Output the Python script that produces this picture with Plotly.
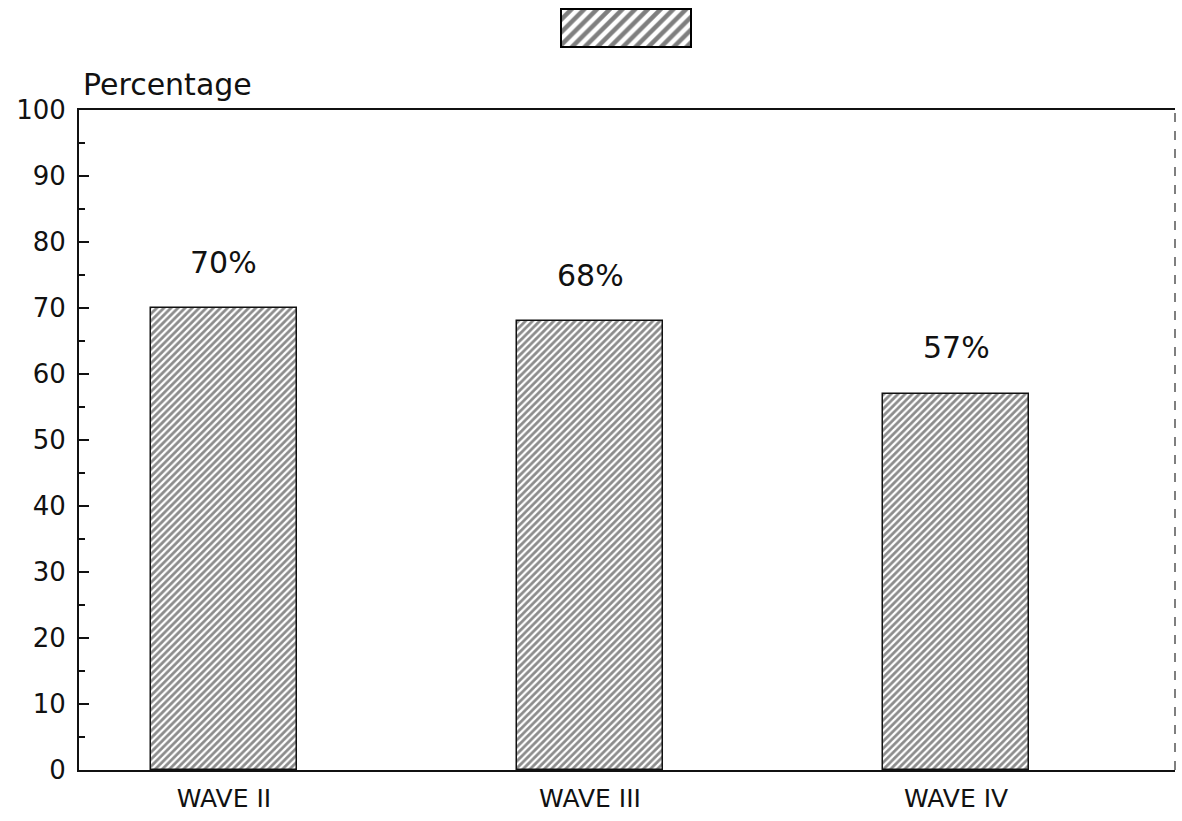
import plotly.graph_objects as go

categories = ["WAVE II", "WAVE III", "WAVE IV"]
values = [70, 68, 57]
value_labels = ["70%", "68%", "57%"]
y_ticks = [0, 10, 20, 30, 40, 50, 60, 70, 80, 90, 100]
legend_key = [1]

FONT = "DejaVu Sans"
W, H = 1182, 821
ml, mr, mt, mb = 79, 7, 5, 51
plot_h = H - mt - mb
plot_w = W - ml - mr
main_top = (H - mb - 110) / plot_h

fig = go.Figure()
fig.add_trace(go.Bar(
    x=[0, 1, 2], y=values, width=0.40,
    marker=dict(color="white", line=dict(color="#111", width=1.5),
                pattern=dict(shape="/", fgcolor="#1a1a1a", bgcolor="white", size=5, solidity=0.55)),
    showlegend=False, hoverinfo="skip"))

# legend key swatch
fig.add_trace(go.Bar(
    x=[0], y=legend_key, width=1.0, xaxis="x2", yaxis="y2",
    marker=dict(color="white", line=dict(color="#000", width=4),
                pattern=dict(shape="/", fgcolor="#000", bgcolor="white", size=9, solidity=0.5)),
    showlegend=False, hoverinfo="skip"))

for i, (v, lab) in enumerate(zip(values, value_labels)):
    fig.add_annotation(x=i, y=v, text=lab, showarrow=False, yshift=46,
                       font=dict(family=FONT, size=30, color="#111"), xref="x", yref="y")

fig.add_annotation(x=0, y=1.0, xref="paper", yref="y domain", xanchor="left", yanchor="bottom",
                   yshift=6, xshift=2, text="Percentage", showarrow=False,
                   font=dict(family=FONT, size=30, color="#111"))

# right frame edge (faint dashed in the original)
fig.add_shape(type="line", xref="x domain", yref="y domain", x0=1, x1=1, y0=0, y1=1,
              line=dict(color="#555", width=1.5, dash="dash"))

fig.update_layout(
    width=W, height=H,
    margin=dict(l=ml, r=mr, t=mt, b=mb, autoexpand=False),
    plot_bgcolor="white", paper_bgcolor="white",
    bargap=0,
    xaxis=dict(range=[-0.396, 2.598], tickvals=[0, 1, 2], ticktext=categories,
               showline=True, linecolor="#111", linewidth=2, mirror=True,
               ticks="", showgrid=False, zeroline=False, automargin=False,
               ticklabelstandoff=5,
               tickfont=dict(family=FONT, size=25, color="#111"), domain=[0, 1]),
    yaxis=dict(range=[0, 100], tickvals=y_ticks, domain=[0, main_top],
               showline=True, linecolor="#111", linewidth=2, mirror=False,
               ticks="inside", ticklen=10, tickwidth=2, tickcolor="#111",
               minor=dict(ticks="inside", ticklen=6, tickwidth=2, tickcolor="#111", dtick=5),
               showgrid=False, zeroline=False, automargin=False,
               ticklabelstandoff=6,
               tickfont=dict(family=FONT, size=26, color="#111")),
    xaxis2=dict(domain=[(560 - ml) / plot_w, (692 - ml) / plot_w], range=[-0.5, 0.5],
                visible=False, anchor="y2", fixedrange=True, automargin=False),
    yaxis2=dict(domain=[(H - mb - 48) / plot_h, (H - mb - 8) / plot_h], range=[0, 1],
                visible=False, anchor="x2", fixedrange=True, automargin=False),
)

fig.write_html("out.html", config={"displayModeBar": False},
               post_script="document.body.style.margin='0';document.body.style.overflow='hidden';")
